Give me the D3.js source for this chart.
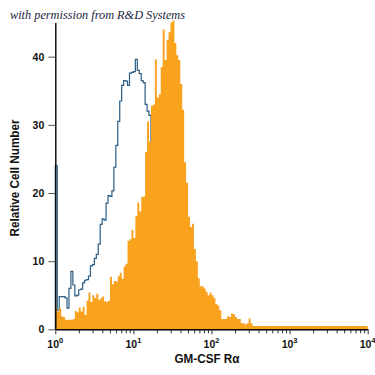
<!DOCTYPE html>
<html>
<head>
<meta charset="utf-8">
<script src="https://cdn.jsdelivr.net/npm/d3@7"></script>
<style>
  html, body { margin: 0; padding: 0; background: #fff; }
  svg { display: block; }
</style>
</head>
<body>
<svg id="chart" width="375" height="375"></svg>
<script>
// ---- data ----
const binsPerDecade = 40;           // histogram channels per decade (log scale)
const xDomain = [1, 10000];
const yTicks = [0, 10, 20, 30, 40];
const xMajorTicks = [1, 10, 100, 1000, 10000];
const xTickExponents = ["0", "1", "2", "3", "4"];
const titleText = "with permission from R&D Systems";
const xLabel = "GM-CSF Rα";
const yLabel = "Relative Cell Number";

// GM-CSF Rα stained cells (orange filled histogram), counts per channel
const stainedCounts = [
  3.1, 2.6, 3.1, 1.9, 1.8, 1.4, 1.4, 1.4, 1.4, 1.5,
  2.7, 2.5, 3.2, 2.6, 3.3, 2.1, 4.2, 5.4, 4.0, 5.0,
  4.6, 5.2, 4.3, 4.6, 4.8, 4.1, 4.0, 4.2, 7.7, 6.6,
  7.1, 7.0, 7.8, 8.3, 7.4, 9.2, 9.6, 13.0, 13.2, 14.6,
  13.4, 16.6, 18.6, 17.3, 19.4, 19.5, 26.0, 30.5, 27.5, 32.8,
  33.0, 39.6, 34.0, 34.5, 38.5, 44.0, 39.5, 42.5, 43.6, 45.0,
  45.3, 42.0, 40.2, 39.5, 36.0, 32.2, 24.5, 21.5, 16.5, 15.0,
  15.5, 11.8, 10.0, 7.5, 6.3, 6.3, 6.0, 5.5, 5.0, 5.4,
  5.0, 4.6, 3.7, 3.5, 2.8, 1.5, 1.5, 1.5, 1.9, 1.8,
  2.3, 2.2, 1.8, 1.5, 1.5, 0.9, 0.9, 0.7, 0.9, 1.6,
  0.9, 0.5, 0.5, 0.5, 0.5, 0.5, 0.5, 0.5, 0.5, 0.5,
  0.5, 0.5, 0.5, 0.5, 0.5, 0.5, 0.5, 0.5, 0.5, 0.5,
  0.5, 0.5, 0.5, 0.5, 0.5, 0.5, 0.5, 0.5, 0.5, 0.5,
  0.5, 0.5, 0.5, 0.5, 0.5, 0.5, 0.5, 0.5, 0.5, 0.5,
  0.5, 0.5, 0.5, 0.5, 0.5, 0.5, 0.5, 0.5, 0.5, 0.5,
  0.5, 0.5, 0.5, 0.5, 0.5, 0.5, 0.5, 0.5, 0.5, 0.5
];

// Isotype control (blue open histogram), counts per channel
const isotypeCounts = [
  24.0, 2.8, 4.8, 4.8, 4.8, 4.6, 3.1, 6.0, 8.5, 6.5,
  4.9, 5.0, 5.8, 5.9, 6.8, 7.2, 7.3, 7.8, 9.3, 9.5,
  10.4, 11.0, 12.5, 15.4, 16.2, 16.0, 18.5, 19.6, 19.5, 20.3,
  23.8, 27.0, 30.5, 33.5, 35.8, 36.5, 36.4, 35.8, 37.6, 37.7,
  37.8, 39.6, 38.0, 37.5, 36.5, 36.2, 33.0, 32.0, 31.4, 26.0,
  22.0, 18.0, 14.0, 11.0, 8.0, 6.0, 4.0, 3.0, 2.0, 1.5,
  1.0, 0.8, 0.5
];

// ---- layout ----
const svg = d3.select("#chart");
const x = d3.scaleLog().domain(xDomain).range([55.3, 367.7]);
const y = d3.scaleLinear().domain([0, 45]).range([329.3, 22.6]);

function steps(counts) {
  const pts = [];
  counts.forEach((c, i) => {
    const e0 = Math.pow(10, i / binsPerDecade);
    const e1 = Math.pow(10, (i + 1) / binsPerDecade);
    pts.push([e0, c], [e1, c]);
  });
  return pts;
}

// isotype (drawn first, orange sits on top of it)
const isoPts = steps(isotypeCounts);
isoPts.unshift([1, 0]);
svg.append("path")
  .datum(isoPts)
  .attr("fill", "none")
  .attr("stroke", "#2c5d84")
  .attr("stroke-width", 1.2)
  .attr("stroke-linejoin", "miter")
  .attr("d", d3.line().x(d => x(d[0])).y(d => y(d[1])));

// stained
svg.append("path")
  .datum(steps(stainedCounts))
  .attr("fill", "#f8a21d")
  .attr("stroke", "none")
  .attr("d", d3.area().x(d => x(d[0])).y0(y(0)).y1(d => y(d[1])));

// ---- axes ----
const minorTicks = [];
for (let d = 0; d < 4; d++) for (let m = 2; m <= 9; m++) minorTicks.push(m * Math.pow(10, d));

const xAxisMinor = d3.axisBottom(x).tickValues(minorTicks).tickSize(4).tickFormat("");
const gxm = svg.append("g").attr("transform", `translate(0,${y(0)})`).call(xAxisMinor);
gxm.select(".domain").remove();

const xAxis = d3.axisBottom(x).tickValues(xMajorTicks).tickSizeInner(5).tickSizeOuter(0).tickFormat("");
const gx = svg.append("g").attr("transform", `translate(0,${y(0)})`).call(xAxis);
gx.select(".domain").attr("stroke-width", 1.4);
svg.selectAll(".tick line").attr("stroke", "#333").attr("stroke-width", 1);

// x tick labels with superscripts
xMajorTicks.forEach((v, i) => {
  const t = svg.append("text")
    .attr("x", x(v))
    .attr("y", 347.5)
    .attr("text-anchor", "middle")
    .attr("font-family", "Liberation Sans, Arial, sans-serif")
    .attr("font-weight", "bold")
    .attr("font-size", 10.5)
    .attr("fill", "#111");
  t.append("tspan").text("10");
  t.append("tspan").attr("dy", -4.5).attr("font-size", 7.5).text(xTickExponents[i]);
});

const yAxis = d3.axisLeft(y).tickValues(yTicks).tickSizeInner(7).tickSizeOuter(0).tickPadding(4);
const gy = svg.append("g").attr("transform", `translate(${x(1)},0)`).call(yAxis);
gy.select(".domain").attr("stroke-width", 1.4);
gy.selectAll(".tick line").attr("stroke", "#555").attr("stroke-width", 1);
gy.selectAll(".tick text")
  .attr("font-family", "Liberation Sans, Arial, sans-serif")
  .attr("font-weight", "bold")
  .attr("font-size", 10.5)
  .attr("fill", "#111");

// ---- labels ----
svg.append("text")
  .attr("x", 207)
  .attr("y", 363)
  .attr("text-anchor", "middle")
  .attr("font-family", "Liberation Sans, Arial, sans-serif")
  .attr("font-weight", "bold")
  .attr("font-size", 13.5)
  .attr("textLength", 65)
  .attr("lengthAdjust", "spacingAndGlyphs")
  .attr("fill", "#111")
  .text(xLabel);

svg.append("text")
  .attr("transform", "translate(18.5,178) rotate(-90)")
  .attr("text-anchor", "middle")
  .attr("font-family", "Liberation Sans, Arial, sans-serif")
  .attr("font-weight", "bold")
  .attr("font-size", 12.5)
  .attr("textLength", 117)
  .attr("lengthAdjust", "spacingAndGlyphs")
  .attr("fill", "#111")
  .text(yLabel);

svg.append("text")
  .attr("x", 10)
  .attr("y", 19)
  .attr("font-family", "Liberation Serif, DejaVu Serif, serif")
  .attr("font-style", "italic")
  .attr("font-size", 13)
  .attr("textLength", 175)
  .attr("lengthAdjust", "spacingAndGlyphs")
  .attr("fill", "#1a1f3d")
  .text(titleText);
</script>
</body>
</html>
